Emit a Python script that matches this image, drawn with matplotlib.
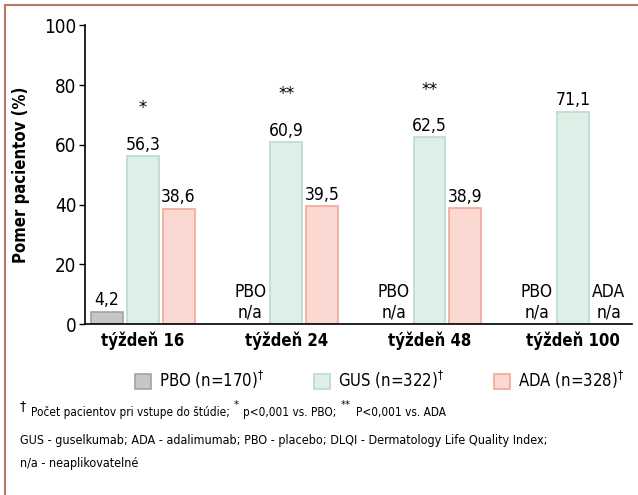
import matplotlib
matplotlib.use("Agg")
import matplotlib.pyplot as plt
from matplotlib.patches import Patch
from matplotlib.lines import Line2D
import numpy as np

plt.rcParams["font.family"] = ["DejaVu Sans"]
plt.rcParams["font.stretch"] = "condensed"

groups = ["týždeň 16", "týždeň 24", "týždeň 48", "týždeň 100"]
pbo = [4.2, None, None, None]
gus = [56.3, 60.9, 62.5, 71.1]
ada = [38.6, 39.5, 38.9, None]
stars = ["*", "**", "**", ""]
series_names = ["PBO", "GUS", "ADA"]
legend_labels = ["PBO (n=170)", "GUS (n=322)", "ADA (n=328)"]
y_ticks = [0, 20, 40, 60, 80, 100]

fills = ["#c6c6c6", "#deefe8", "#fbd8d1"]
edges = ["#a3a3a3", "#b9dccd", "#f2a898"]

W, H = 638, 495
fig = plt.figure(figsize=(W / 100, H / 100), dpi=100)
ax = fig.add_axes([0.133, 0.345, 0.857, 0.604])

x = np.arange(len(groups))
width = 0.223
offsets = [-0.25, 0.0, 0.25]

for series, name, off, fc, ec in zip([pbo, gus, ada], series_names, offsets, fills, edges):
    for xi, v in zip(x, series):
        if v is None:
            ax.text(xi + off, 0.8, f"{name}\nn/a", ha="center", va="bottom",
                    fontsize=12.5, linespacing=1.2)
            continue
        ax.bar(xi + off, v, width=width, color=fc, edgecolor=ec, linewidth=1.2)
        ax.text(xi + off, v + 0.8, f"{v:.1f}".replace(".", ","), ha="center",
                va="bottom", fontsize=12.5)

for xi, s, v in zip(x, stars, gus):
    if s:
        ax.text(xi, v + 16, s, ha="center", va="center", fontsize=13)

ax.set_xlim(-0.404, 3.41)
ax.set_ylim(0, 100)
ax.set_yticks(y_ticks)
ax.set_yticklabels([str(t) for t in y_ticks], fontsize=13.5)
ax.set_xticks(x)
ax.set_xticklabels(groups, fontsize=12, fontweight="bold")
ax.tick_params(axis="x", length=0, pad=5)
ax.tick_params(axis="y", length=4, width=1, pad=2)
for side in ["top", "right"]:
    ax.spines[side].set_visible(False)
ax.spines["left"].set_linewidth(1.2)
ax.spines["bottom"].set_linewidth(1.2)
ax.set_ylabel("Pomer pacientov (%)", fontsize=12, fontweight="bold", labelpad=10)

handles = [Patch(facecolor=fc, edgecolor=ec, linewidth=1.2) for fc, ec in zip(fills, edges)]
fig.legend(handles, [l + "$^{\\dagger}$" for l in legend_labels], ncol=3,
           loc="center", bbox_to_anchor=(0.595, 0.232), frameon=False,
           fontsize=12, handlelength=0.95, handleheight=0.95,
           handletextpad=0.5, columnspacing=3.0)

# footnote line 1: (text, fontsize, raise in px, gap before in px)
pieces = [
    ("†", 10, 5, 0),
    ("Počet pacientov pri vstupe do štúdie;", 8.5, 0, 5),
    ("*", 8, 8, 4),
    ("p<0,001 vs. PBO;", 8.5, 0, 4),
    ("**", 8, 8, 4),
    ("P<0,001 vs. ADA", 8.5, 0, 6),
]
renderer = fig.canvas.get_renderer()
cursor = 20
base = 416
for txt, size, rise, gap in pieces:
    cursor += gap
    t = fig.text(cursor / W, 1 - (base - rise) / H, txt, fontsize=size, va="baseline")
    cursor = t.get_window_extent(renderer).x1

fig.text(20 / W, 1 - 444 / H,
         "GUS - guselkumab; ADA - adalimumab; PBO - placebo; DLQI - Dermatology Life Quality Index;",
         fontsize=9, va="baseline")
fig.text(20 / W, 1 - 467 / H, "n/a - neaplikovatelné", fontsize=9, va="baseline")

border = "#b97b66"
fig.add_artist(Line2D([5 / W, 1], [1 - 5 / H, 1 - 5 / H], color=border, lw=1.5))
fig.add_artist(Line2D([5 / W, 5 / W], [0, 1 - 5 / H], color=border, lw=1.5))

fig.savefig("out.png", dpi=100)
